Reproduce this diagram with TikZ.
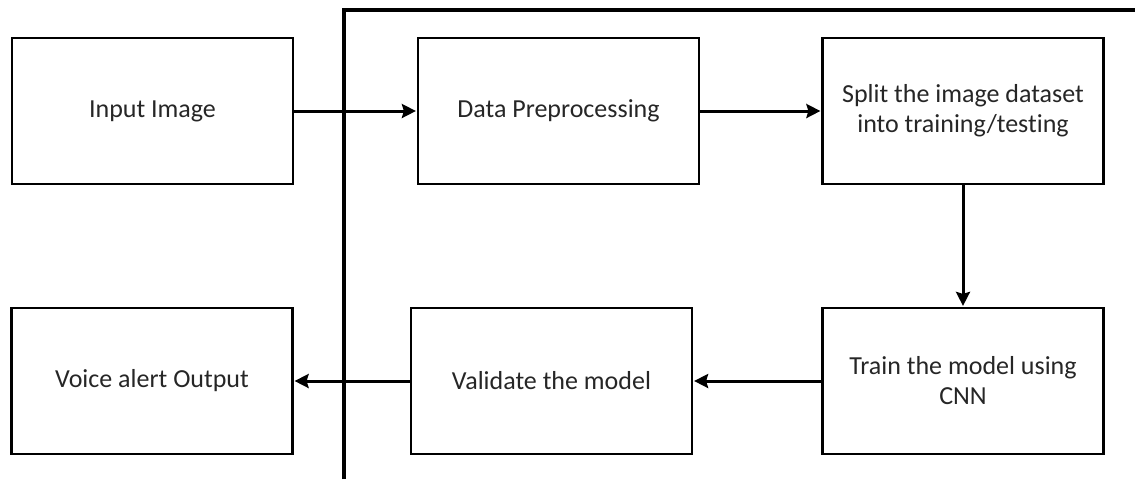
\documentclass[tikz,border=0pt]{standalone}
\usepackage{fontspec}
\setmainfont{Carlito}[Ligatures=NoCommon]
\usetikzlibrary{positioning, arrows.meta}

\begin{document}
\begin{tikzpicture}[
    x=0.5pt, y=-0.5pt,
    on grid,
    >={Stealth[length=7pt, width=7pt, inset=1pt]},
    every node/.style={font=\fontsize{13}{15}\selectfont, text=black!85},
    block/.style={draw=black, line width=1.1pt, minimum width=140.5pt, minimum height=73pt, align=center},
    flow/.style={->, line width=1.5pt, shorten >=0.5pt}
]

   \useasboundingbox (0,0) rectangle (1135,479);

   % Blocks
   \node[block] (input) at (152.5,111) {Input Image};
   \node[block] (prep) [right=203pt of input] {Data Preprocessing};
   \node[block] (split) [right=202.25pt of prep] {Split the image dataset\\into training/testing};
   \node[block] (train) [below=135pt of split] {Train the model using\\CNN};
   \node[block] (valid) [left=205.75pt of train] {Validate the model};
   \node[block] (voice) [left=199.75pt of valid] {Voice alert Output};

   % Frame line
   \coordinate (railbot) at (344,479);
   \coordinate (railtop) at (344,10);
   \coordinate (railend) at (1135,10);
   \draw[line width=2pt] (railbot) -- (railtop) -- (railend);

   % Flow
   \draw[flow] (input) -- (prep);
   \draw[flow] (prep) -- (split);
   \draw[flow] (split) -- (train);
   \draw[flow] (train) -- (valid);
   \draw[flow] (valid) -- (voice);

\end{tikzpicture}
\end{document}
